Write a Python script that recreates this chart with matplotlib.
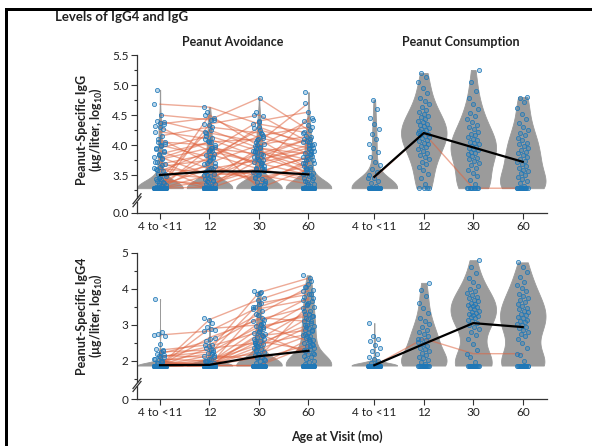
import numpy as np
import matplotlib
matplotlib.use('Agg')
import matplotlib.pyplot as plt
from matplotlib.patches import Rectangle

plt.rcParams['font.family'] = ['Lato', 'DejaVu Sans']
plt.rcParams['mathtext.fontset'] = 'custom'
plt.rcParams['mathtext.rm'] = 'Lato:bold'
plt.rcParams['mathtext.it'] = 'Lato:bold:italic'
plt.rcParams['mathtext.bf'] = 'Lato:bold'

# ---------------- data ----------------
visit_labels = ['4 to <11', '12', '30', '60']

# IgG (top panel), lower limit 3.28
igg_lod = 3.28
igg_avoid_traj = [
    [4.68, 4.63, 4.35, 4.20], [4.50, 4.42, 4.78, 4.25], [4.40, 4.20, 4.05, 4.70],
    [4.35, 4.45, 4.12, 3.95], [4.30, 3.90, 4.40, 4.55], [4.22, 4.10, 3.80, 4.10],
    [4.15, 4.30, 4.20, 3.85], [4.10, 3.70, 4.00, 4.15], [4.05, 4.00, 3.65, 3.90],
    [4.00, 3.80, 4.25, 4.05], [3.95, 4.15, 3.90, 3.70], [3.90, 3.60, 3.75, 4.00],
    [3.85, 4.05, 4.10, 3.60], [3.80, 3.50, 3.55, 3.80], [3.76, 3.95, 3.85, 4.10],
    [3.72, 3.40, 3.95, 3.75], [3.68, 3.85, 3.60, 3.45], [3.64, 3.75, 4.30, 4.00],
    [3.60, 3.55, 3.45, 3.65], [3.56, 3.90, 3.70, 3.90], [3.52, 3.45, 3.80, 3.55],
    [3.48, 3.65, 3.40, 3.70], [3.44, 4.25, 3.95, 3.85], [3.40, 3.35, 3.60, 3.40],
    [3.36, 3.80, 4.15, 4.30], [3.33, 3.60, 3.50, 3.35], [3.28, 4.35, 4.50, 4.05],
    [3.28, 3.95, 3.70, 3.50], [3.28, 3.50, 3.88, 3.62], [3.28, 3.70, 3.35, 3.75],
    [3.28, 3.30, 3.75, 3.95], [3.30, 4.50, 3.98, 4.40], [3.28, 3.40, 3.62, 4.45],
    [3.45, 3.28, 3.55, 3.80], [3.62, 3.28, 3.90, 3.52], [3.78, 4.05, 3.28, 3.60],
]
igg_avoid_extra = [
    [4.92, 4.38, 4.36, 4.31, 4.26, 4.05, 4.02, 3.98, 3.93, 3.88, 3.83, 3.71, 3.66,
     3.58, 3.52, 3.47, 3.43, 3.39, 3.36, 3.34, 3.31],
    [4.55, 4.41, 4.33, 4.21, 4.12, 4.06, 3.97, 3.91, 3.84, 3.79, 3.73, 3.68, 3.62,
     3.57, 3.52, 3.48, 3.44, 3.41, 3.38, 3.35, 3.32, 3.30],
    [4.55, 4.48, 4.38, 4.29, 4.18, 4.09, 4.02, 3.96, 3.89, 3.83, 3.77, 3.71, 3.66,
     3.61, 3.56, 3.51, 3.47, 3.43, 3.39, 3.36, 3.33, 3.30],
    [4.88, 4.42, 4.33, 4.22, 4.13, 4.07, 4.01, 3.94, 3.87, 3.81, 3.76, 3.70, 3.64,
     3.58, 3.53, 3.49, 3.45, 3.41, 3.38, 3.35, 3.32, 3.30],
]
igg_avoid_lod_n = [110, 100, 100, 95]
igg_cons_traj = [[3.45, 4.20, 3.28, 3.28]]
igg_cons_vals = [
    [3.32, 3.36, 3.40, 3.45, 3.50, 3.55, 3.60, 3.66, 3.72, 3.80, 3.88, 3.95, 4.02,
     4.10, 4.18, 4.26, 4.35, 4.45, 4.60, 4.75],
    [3.35, 3.45, 3.52, 3.58, 3.63, 3.68, 3.72, 3.76, 3.80, 3.84, 3.87, 3.90, 3.93,
     3.96, 3.99, 4.02, 4.04, 4.07, 4.09, 4.11, 4.13, 4.15, 4.17, 4.19, 4.21, 4.23,
     4.25, 4.27, 4.29, 4.31, 4.33, 4.35, 4.38, 4.40, 4.43, 4.46, 4.49, 4.52, 4.55,
     4.59, 4.63, 4.68, 4.73, 4.79, 4.86, 4.95, 5.05, 5.14, 5.20],
    [3.35, 3.42, 3.48, 3.53, 3.58, 3.62, 3.66, 3.70, 3.73, 3.76, 3.79, 3.82, 3.85,
     3.87, 3.89, 3.91, 3.93, 3.95, 3.97, 3.99, 4.01, 4.03, 4.05, 4.08, 4.10, 4.13,
     4.16, 4.19, 4.22, 4.26, 4.30, 4.34, 4.38, 4.43, 4.48, 4.54, 4.60, 4.68, 4.78,
     4.90, 5.05, 5.25],
    [3.32, 3.36, 3.40, 3.44, 3.47, 3.50, 3.53, 3.56, 3.59, 3.62, 3.65, 3.68, 3.71,
     3.74, 3.77, 3.80, 3.83, 3.86, 3.89, 3.92, 3.95, 3.98, 4.01, 4.04, 4.08, 4.12,
     4.16, 4.20, 4.25, 4.30, 4.36, 4.43, 4.52, 4.62, 4.72, 4.78, 4.80],
]
igg_cons_lod_n = [45, 4, 8, 12]
igg_mean_avoid = [3.50, 3.56, 3.56, 3.51]
igg_mean_cons = [3.47, 4.20, 3.96, 3.72]

# IgG4 (bottom panel), lower limit 1.87
igg4_lod = 1.87
igg4_avoid_traj = [
    [2.72, 2.83, 3.50, 3.95], [2.25, 2.30, 3.90, 4.30], [2.20, 2.55, 3.30, 4.05],
    [2.15, 2.10, 3.05, 3.75], [2.10, 2.40, 2.80, 3.60], [2.05, 2.00, 2.60, 3.40],
    [2.00, 2.20, 3.60, 3.85], [1.95, 1.87, 2.40, 3.20], [1.87, 2.65, 3.15, 3.50],
    [1.87, 1.95, 2.90, 3.30], [1.87, 2.35, 2.50, 3.00], [1.87, 1.87, 2.70, 2.85],
    [1.87, 2.05, 2.20, 2.70], [1.87, 1.87, 3.45, 3.70], [1.87, 2.90, 3.00, 2.55],
    [1.87, 1.87, 2.30, 2.95], [1.87, 2.15, 2.05, 2.45], [1.87, 1.87, 1.87, 2.60],
    [1.87, 1.87, 2.55, 2.30], [2.30, 2.45, 3.20, 3.10], [1.87, 1.87, 2.10, 3.55],
    [1.87, 1.87, 2.75, 2.20], [2.00, 1.87, 1.87, 2.40], [1.87, 2.00, 2.45, 2.75],
    [2.12, 2.25, 2.95, 3.25], [1.87, 3.15, 3.70, 4.15],
]
igg4_avoid_extra = [
    [3.72, 2.80, 2.76, 2.70, 2.48, 2.33, 2.27, 2.14, 2.06, 1.98, 1.93],
    [3.19, 3.04, 2.93, 2.86, 2.62, 2.44, 2.31, 2.22, 2.13, 2.06, 2.01, 1.95, 1.91],
    [3.95, 3.92, 3.86, 3.74, 3.58, 3.51, 3.38, 3.27, 3.12, 3.03, 2.96, 2.89, 2.84,
     2.78, 2.71, 2.66, 2.61, 2.56, 2.51, 2.47, 2.42, 2.37, 2.33, 2.28, 2.24, 2.19,
     2.15, 2.11, 2.07, 2.03, 1.99, 1.95, 1.91],
    [4.38, 4.21, 4.06, 3.97, 3.86, 3.77, 3.66, 3.57, 3.48, 3.39, 3.31, 3.24, 3.17,
     3.11, 3.06, 3.01, 2.96, 2.91, 2.86, 2.82, 2.77, 2.73, 2.68, 2.64, 2.59, 2.55,
     2.50, 2.46, 2.41, 2.37, 2.32, 2.28, 2.23, 2.19, 2.14, 2.10, 2.05, 2.01, 1.96, 1.92],
]
igg4_avoid_lod_n = [130, 130, 95, 65]
igg4_cons_traj = [[1.87, 2.62, 2.20, 2.20]]
igg4_cons_vals = [
    [1.92, 1.95, 2.00, 2.05, 2.10, 2.20, 2.28, 2.35, 2.45, 2.55, 2.62, 2.70, 3.05],
    [1.92, 1.97, 2.02, 2.07, 2.12, 2.17, 2.22, 2.27, 2.32, 2.37, 2.42, 2.47, 2.52,
     2.57, 2.62, 2.68, 2.74, 2.80, 2.87, 2.94, 3.02, 3.10, 3.20, 3.32, 3.46, 3.62,
     3.80, 3.98, 4.17],
    [1.98, 2.12, 2.30, 2.48, 2.62, 2.72, 2.80, 2.88, 2.95, 3.00, 3.05, 3.10, 3.14,
     3.18, 3.22, 3.25, 3.28, 3.31, 3.34, 3.37, 3.40, 3.43, 3.46, 3.49, 3.52, 3.55,
     3.58, 3.62, 3.66, 3.70, 3.74, 3.78, 3.83, 3.88, 3.94, 4.00, 4.08, 4.18, 4.30,
     4.45, 4.62, 4.80],
    [2.00, 2.15, 2.35, 2.50, 2.60, 2.68, 2.75, 2.81, 2.86, 2.91, 2.95, 2.99, 3.03,
     3.07, 3.11, 3.15, 3.19, 3.23, 3.27, 3.31, 3.35, 3.39, 3.43, 3.48, 3.53, 3.58,
     3.63, 3.68, 3.74, 3.80, 3.87, 3.94, 4.02, 4.10, 4.20, 4.32, 4.48, 4.62, 4.74],
]
igg4_cons_lod_n = [90, 14, 15, 15]
igg4_mean_avoid = [1.88, 1.89, 2.13, 2.28]
igg4_mean_cons = [1.88, 2.47, 3.05, 2.94]

# ---------------- layout / style ----------------
pos_avoid = np.array([0.0, 1.0, 2.0, 3.0])
pos_cons = np.array([4.33, 5.33, 6.33, 7.33])
x_lim = (-0.465, 7.82)

violin_color = '#9b9b9b'
dot_edge = (0.12, 0.47, 0.72, 0.9)
dot_face = (0.12, 0.47, 0.72, 0.30)
line_color = '#df6440'
text_color = '#222222'


def jitter(n, spread=0.24):
    # deterministic horizontal spread of the dots
    k = np.arange(n)
    return ((k * 0.6180339887) % 1.0 - 0.5) * spread


def draw_panel(ax, lod, avoid_traj, avoid_extra, avoid_lod_n, cons_traj,
               cons_vals, cons_lod_n, mean_avoid, mean_cons):
    avoid_traj = np.array(avoid_traj)
    cons_traj = np.array(cons_traj)

    avoid_sets = []
    for v in range(4):
        vals = list(avoid_traj[:, v]) + list(avoid_extra[v]) + [lod] * avoid_lod_n[v]
        avoid_sets.append(np.array(vals))
    cons_sets = []
    for v in range(4):
        vals = list(cons_traj[:, v]) + list(cons_vals[v]) + [lod] * cons_lod_n[v]
        cons_sets.append(np.array(vals))

    all_sets = avoid_sets + cons_sets
    all_pos = list(pos_avoid) + list(pos_cons)

    parts = ax.violinplot(all_sets, positions=all_pos, widths=0.92,
                          showextrema=False, points=300)
    for body in parts['bodies']:
        body.set_facecolor(violin_color)
        body.set_edgecolor(violin_color)
        body.set_linewidth(0.6)
        body.set_alpha(1)
        body.set_zorder(1)

    # individual participants
    for row in avoid_traj:
        ax.plot(pos_avoid, row, color=line_color, alpha=0.55, lw=1.0, zorder=2)
    for row in cons_traj:
        ax.plot(pos_cons, row, color=line_color, alpha=0.55, lw=1.0, zorder=2)

    # dots
    for p, vals in zip(all_pos, all_sets):
        ax.scatter(p + jitter(len(vals)), vals, s=9, facecolors=dot_face,
                   edgecolors=dot_edge, linewidths=0.6, zorder=3)

    # means
    ax.plot(pos_avoid, mean_avoid, color='black', lw=1.6, zorder=4)
    ax.plot(pos_cons, mean_cons, color='black', lw=1.6, zorder=4)

    ax.set_xlim(*x_lim)
    ax.set_xticks(all_pos)
    ax.set_xticklabels(visit_labels * 2)
    for s in ['top', 'right']:
        ax.spines[s].set_visible(False)
    for s in ['left', 'bottom']:
        ax.spines[s].set_color('#333333')
        ax.spines[s].set_linewidth(0.9)
    ax.tick_params(axis='both', which='major', length=4, width=0.8,
                   color='#333333', labelsize=8.5, labelcolor=text_color, pad=2)
    ax.tick_params(axis='y', which='minor', length=2.5, width=0.8, color='#333333')


def axis_break(ax, y_frac):
    # little "//" mark on the left spine
    bbox = ax.get_window_extent()
    dx = 4.0 / bbox.width
    dy = 5.0 / bbox.height
    gap = 3.0 / bbox.height
    ax.add_patch(Rectangle((-dx, y_frac - gap / 2), 2 * dx, gap, transform=ax.transAxes,
                           facecolor='white', edgecolor='none', clip_on=False, zorder=5))
    for off in (-gap / 2, gap / 2):
        ax.plot([-dx, dx], [y_frac + off - dy, y_frac + off + dy], transform=ax.transAxes,
                color='#333333', lw=0.9, clip_on=False, zorder=6)


fig = plt.figure(figsize=(5.92, 4.46), dpi=100)
W, H = 592.0, 446.0

# top axes: 5.5 at y=55px, "0.0" at y=213px
ax1 = fig.add_axes([137 / W, 1 - 213 / H, 410 / W, (213 - 52) / H])
draw_panel(ax1, igg_lod, igg_avoid_traj, igg_avoid_extra, igg_avoid_lod_n,
           igg_cons_traj, igg_cons_vals, igg_cons_lod_n, igg_mean_avoid, igg_mean_cons)
ax1.set_ylim(2.867, 5.55)
ax1.spines['left'].set_bounds(2.867, 5.5)
ax1.set_yticks([2.867, 3.5, 4.0, 4.5, 5.0, 5.5])
ax1.set_yticklabels(['0.0', '3.5', '4.0', '4.5', '5.0', '5.5'])
ax1.set_yticks([3.25, 3.75, 4.25, 4.75, 5.25], minor=True)

# bottom axes: 5 at y=253px, "0" at y=399px
ax2 = fig.add_axes([137 / W, 1 - 399 / H, 410 / W, (399 - 251.2) / H])
draw_panel(ax2, igg4_lod, igg4_avoid_traj, igg4_avoid_extra, igg4_avoid_lod_n,
           igg4_cons_traj, igg4_cons_vals, igg4_cons_lod_n, igg4_mean_avoid, igg4_mean_cons)
ax2.set_ylim(0.94, 5.05)
ax2.spines['left'].set_bounds(0.94, 5.0)
ax2.set_yticks([0.94, 2, 3, 4, 5])
ax2.set_yticklabels(['0', '2', '3', '4', '5'])
ax2.set_yticks([1.5, 2.5, 3.5, 4.5], minor=True)

axis_break(ax1, (3.08 - 2.867) / (5.55 - 2.867))
axis_break(ax2, (1.33 - 0.94) / (5.05 - 0.94))

# texts
fig.text(55 / W, 1 - 17 / H, 'Levels of IgG4 and IgG', fontsize=9.5, fontweight='bold',
         color=text_color, ha='left', va='center')
fig.text(233 / W, 1 - 42 / H, 'Peanut Avoidance', fontsize=9, fontweight='bold',
         color=text_color, ha='center', va='center')
fig.text(461 / W, 1 - 42 / H, 'Peanut Consumption', fontsize=9, fontweight='bold',
         color=text_color, ha='center', va='center')
fig.text(337 / W, 1 - 437 / H, 'Age at Visit (mo)', fontsize=9, fontweight='bold',
         color=text_color, ha='center', va='center')

unit_label = '(µg/liter, log$_{10}$)'
fig.text(82 / W, 1 - 130 / H, 'Peanut-Specific IgG', rotation=90, fontsize=9,
         fontweight='bold', color=text_color, ha='center', va='center')
fig.text(96 / W, 1 - 130 / H, unit_label, rotation=90, fontsize=9,
         fontweight='bold', color=text_color, ha='center', va='center')
fig.text(82 / W, 1 - 316 / H, 'Peanut-Specific IgG4', rotation=90, fontsize=9,
         fontweight='bold', color=text_color, ha='center', va='center')
fig.text(96 / W, 1 - 316 / H, unit_label, rotation=90, fontsize=9,
         fontweight='bold', color=text_color, ha='center', va='center')

# frame lines at left and top of the panel
fig.add_artist(Rectangle((5 / W, 0), 3.3 / W, 1 - 8.3 / H, transform=fig.transFigure,
                         facecolor='black', edgecolor='none'))
fig.add_artist(Rectangle((5 / W, 1 - 11 / H), 1, 2.7 / H, transform=fig.transFigure,
                         facecolor='black', edgecolor='none'))

plt.savefig('out.png', dpi=100)
plt.close(fig)
